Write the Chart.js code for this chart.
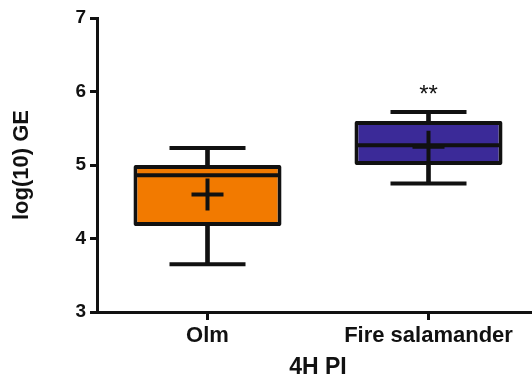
<!DOCTYPE html>
<html>
<head>
<meta charset="utf-8">
<script src="https://cdn.jsdelivr.net/npm/chart.js@4"></script>
<style>
  html, body { margin: 0; padding: 0; background: #fff; overflow: hidden; }
  #wrap { width: 540px; height: 380px; position: relative; }
</style>
</head>
<body>
<div id="wrap"><canvas id="myChart"></canvas></div>
<script>
// data
const groups = ['Olm', 'Fire salamander'];
const mins = [3.65, 4.75];
const q1s = [4.17, 5.00];
const medians = [4.86, 5.27];
const q3s = [5.00, 5.60];
const maxes = [5.23, 5.72];
const means = [4.60, 5.25];
const stars = ['', '**'];
const yTicks = [3, 4, 5, 6, 7];

const boxColors = ['#F27A00', '#3B2A98'];
const ink = '#111111';

// ** above a box
const starPlugin = {
  id: 'stars',
  afterDatasetsDraw(chart) {
    const ctx = chart.ctx;
    const x = chart.scales.x;
    const y = chart.scales.y;
    ctx.save();
    ctx.fillStyle = ink;
    ctx.font = '24px "Liberation Sans", Arial, sans-serif';
    ctx.textAlign = 'center';
    ctx.textBaseline = 'alphabetic';
    stars.forEach((s, i) => {
      if (!s) return;
      ctx.fillText(s, x.getPixelForValue(i), y.getPixelForValue(maxes[i]) - 10);
    });
    ctx.restore();
  }
};

const ctx = document.getElementById('myChart').getContext('2d');

new Chart(ctx, {
  data: {
    labels: groups,
    datasets: [
      { // mean +
        type: 'line', order: 1, showLine: false, clip: false,
        data: means, pointStyle: 'cross', pointRadius: 16, pointHoverRadius: 16,
        pointBorderColor: ink, pointBorderWidth: 4
      },
      { // median
        type: 'line', order: 2, showLine: false, clip: false,
        data: medians, pointStyle: 'line', pointRadius: 72, pointHoverRadius: 72,
        pointBorderColor: ink, pointBorderWidth: 4
      },
      { // whisker caps top
        type: 'line', order: 3, showLine: false, clip: false,
        data: maxes, pointStyle: 'line', pointRadius: 38, pointHoverRadius: 38,
        pointBorderColor: ink, pointBorderWidth: 4
      },
      { // whisker caps bottom
        type: 'line', order: 3, showLine: false, clip: false,
        data: mins, pointStyle: 'line', pointRadius: 38, pointHoverRadius: 38,
        pointBorderColor: ink, pointBorderWidth: 4
      },
      { // box
        type: 'bar', order: 4, grouped: false,
        data: groups.map((g, i) => [q1s[i], q3s[i]]),
        backgroundColor: boxColors,
        borderColor: ink, borderWidth: 4, borderSkipped: false, borderRadius: 2,
        barPercentage: 0.67, categoryPercentage: 1
      },
      { // upper whisker
        type: 'bar', order: 5, grouped: false,
        data: groups.map((g, i) => [q3s[i], maxes[i]]),
        backgroundColor: ink, barThickness: 4
      },
      { // lower whisker
        type: 'bar', order: 5, grouped: false,
        data: groups.map((g, i) => [mins[i], q1s[i]]),
        backgroundColor: ink, barThickness: 4
      }
    ]
  },
  options: {
    responsive: true,
    maintainAspectRatio: false,
    animation: false,
    layout: { autoPadding: false, padding: { top: 18, right: 1, left: 0, bottom: 0 } },
    plugins: { legend: { display: false }, tooltip: { enabled: false } },
    scales: {
      x: {
        type: 'category',
        offset: true,
        afterFit: s => { s.height = 68; },
        border: { color: ink, width: 3 },
        grid: { offset: false, drawOnChartArea: false, color: ink, lineWidth: 3, tickLength: 8 },
        ticks: {
          color: ink, padding: 3, maxRotation: 0, autoSkip: false,
          font: { family: '"Liberation Sans", Arial, sans-serif', size: 22, weight: 'bold' }
        },
        title: {
          display: true, text: '4H PI', color: ink,
          padding: { top: 0, bottom: 0 },
          font: { family: '"Liberation Sans", Arial, sans-serif', size: 23, weight: 'bold', lineHeight: 1.1 }
        }
      },
      y: {
        min: 3, max: 7,
        afterFit: s => { s.width = 97; },
        afterBuildTicks: s => { s.ticks = yTicks.map(v => ({ value: v })); },
        border: { color: ink, width: 3 },
        grid: { drawOnChartArea: false, color: ink, lineWidth: 3, tickLength: 7 },
        ticks: {
          color: ink, padding: 4,
          font: { family: '"Liberation Sans", Arial, sans-serif', size: 19, weight: 'bold' }
        },
        title: {
          display: true, text: 'log(10) GE', color: ink,
          padding: { top: 9, bottom: 0 },
          font: { family: '"Liberation Sans", Arial, sans-serif', size: 22, weight: 'bold', lineHeight: 1.2 }
        }
      }
    }
  },
  plugins: [starPlugin]
});
</script>
</body>
</html>
